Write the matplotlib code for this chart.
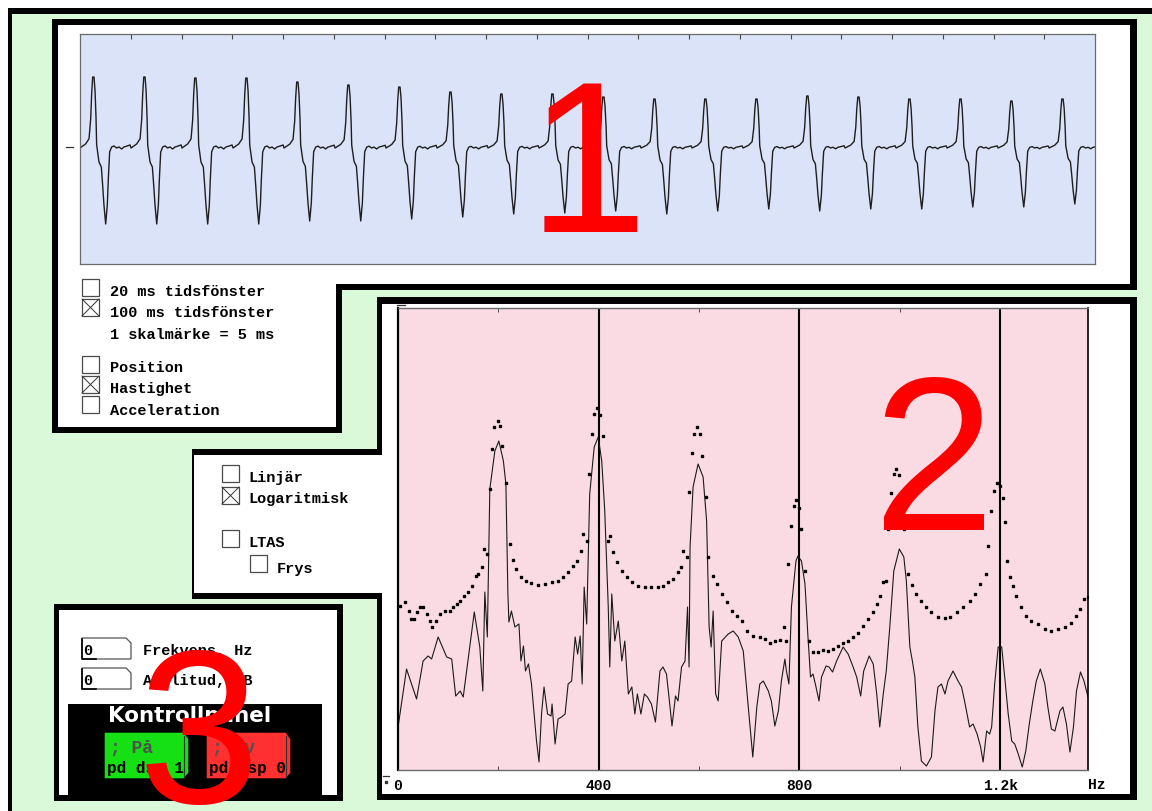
import matplotlib.pyplot as plt
from matplotlib.patches import Polygon, Rectangle

W, H = 1152, 812
GREEN = '#d9f9d9'
BLUE = '#dbe3f8'
PINK = '#fadbe3'
MONO = 'Liberation Mono'

# ---- data ----
# one period of the velocity signal (ms from period start, amplitude units)
cycle_t = [0.00, 0.56, 0.89, 1.05, 1.15, 1.25, 1.38, 1.48, 1.58, 1.64, 1.87, 2.10, 2.23,
           2.36, 2.53, 2.69, 2.79, 2.92, 3.12, 3.35, 3.60, 3.84, 4.10, 4.33, 4.66, 4.93]
cycle_amp = [0, 4, 9, 28, 53, 69, 69, 56, 29, 3, -14, -19, -37,
             -57, -76, -57, -31, -4, 1, 2, 0, 1, -1, 1, 2, 3]
# start of each period (ms) and how high / deep that period goes
cycle_start = [0.0, 5.03, 10.05, 15.08, 20.1, 25.13, 30.15, 35.18, 40.2, 45.23,
               50.25, 55.28, 60.3, 65.33, 70.35, 75.38, 80.4, 85.43, 90.45, 95.48]
peak_amp = [71, 71, 70, 70, 66, 63, 61, 56, 54, 54, 51, 49, 49, 49, 52, 51, 49, 49, 47, 49]
trough_amp = [76, 76, 76, 76, 73, 73, 71, 69, 66, 65, 63, 66, 63, 61, 63, 61, 61, 59, 59, 56]

# spectrum (Hz, level) - solid curve
spec_hz = [1, 17, 37, 50, 60, 67, 80, 97, 107, 115, 124, 130, 152, 163, 169, 173, 178, 183,
           193, 201, 210, 215, 219, 221, 226, 233, 241, 245, 250, 254, 260, 266, 276, 281,
           286, 291, 298, 305, 307, 313, 319, 326, 333, 339, 346, 353, 358, 363, 367, 371,
           376, 382, 391, 399, 406, 412, 419, 422, 426, 432, 439, 446, 452, 459, 466, 472,
           477, 484, 491, 497, 505, 513, 522, 528, 535, 540, 546, 553, 558, 565, 572, 577,
           580, 582, 588, 598, 608, 615, 620, 624, 628, 633, 638, 645, 658, 668, 678, 688,
           698, 707, 715, 721, 728, 738, 744, 751, 758, 764, 771, 774, 779, 784, 793, 797,
           804, 811, 817, 822, 827, 833, 839, 844, 853, 859, 866, 874, 887, 897, 907, 914,
           922, 928, 939, 947, 954, 960, 967, 973, 980, 988, 999, 1008, 1013, 1020, 1025,
           1030, 1036, 1043, 1053, 1063, 1070, 1076, 1083, 1090, 1096, 1106, 1116, 1123,
           1129, 1139, 1146, 1154, 1161, 1166, 1173, 1179, 1183, 1189, 1196, 1203, 1209,
           1216, 1223, 1229, 1236, 1244, 1251, 1258, 1265, 1272, 1280, 1289, 1295, 1302,
           1309, 1319, 1325, 1332, 1339, 1346, 1352, 1360, 1367, 1375]
spec_level = [45, 100, 70, 108, 113, 110, 132, 112, 110, 73, 78, 72, 157, 122, 78, 177, 132, 280,
              318, 328, 308, 285, 175, 147, 158, 142, 145, 108, 123, 98, 105, 85, 28, 7,
              55, 82, 55, 53, 65, 25, 50, 52, 55, 85, 88, 132, 115, 133, 85, 182,
              145, 275, 322, 332, 308, 258, 162, 102, 175, 128, 148, 108, 128, 75, 82, 55,
              75, 55, 75, 72, 65, 47, 98, 102, 95, 72, 43, 73, 68, 102, 108, 162,
              102, 222, 282, 305, 292, 248, 142, 122, 158, 75, 68, 128, 135, 138, 132, 118,
              62, 12, 62, 85, 88, 78, 68, 43, 58, 88, 110, 98, 85, 162, 208, 213,
              208, 185, 132, 92, 95, 82, 68, 92, 103, 102, 97, 108, 122, 115, 102, 92,
              73, 98, 113, 105, 75, 42, 75, 98, 142, 198, 220, 212, 188, 122, 108,
              92, 42, 8, 3, 12, 58, 82, 85, 75, 88, 98, 88, 82,
              68, 42, 45, 35, 22, 7, 38, 35, 42, 85, 122, 122, 92,
              55, 28, 25, 15, 2, 18, 45, 68, 88, 100, 85, 62, 40,
              38, 58, 62, 45, 17, 42, 78, 97, 88, 72]

# spectrum (Hz, level) - dotted curve
ltas_hz = [4, 14, 21, 26, 32, 37, 44, 50, 57, 64, 68, 75, 84, 94, 104, 110, 117, 124, 132,
           140, 147, 155, 160, 167, 172, 177, 183, 188, 192, 199, 203, 208, 215, 223, 230,
           236, 246, 256, 266, 279, 293, 306, 319, 329, 339, 349, 356, 364, 369, 376, 380,
           386, 391, 397, 402, 409, 418, 422, 429, 436, 446, 456, 466, 479, 492, 505, 519,
           529, 539, 548, 558, 564, 568, 575, 580, 585, 590, 596, 602, 606, 613, 618, 628,
           635, 645, 655, 665, 675, 685, 695, 708, 721, 731, 741, 751, 761, 769, 773, 777,
           784, 789, 794, 799, 804, 811, 819, 827, 837, 847, 857, 867, 877, 887, 897, 907,
           917, 927, 937, 946, 954, 960, 967, 972, 977, 982, 988, 993, 999, 1008, 1016,
           1025, 1033, 1043, 1053, 1063, 1076, 1090, 1100, 1113, 1126, 1139, 1149, 1159,
           1171, 1176, 1181, 1187, 1193, 1199, 1205, 1209, 1214, 1220, 1226, 1232, 1242,
           1252, 1262, 1276, 1289, 1302, 1315, 1329, 1342, 1352, 1360, 1368, 1375]
ltas_level = [163, 167, 158, 150, 150, 157, 162, 162, 155, 148, 142, 148, 155, 158, 158, 162,
              165, 168, 173, 177, 183, 193, 195, 202, 220, 215, 280, 320, 342, 348, 343, 323,
              286, 225, 209, 200, 192, 188, 186, 184, 185, 187, 188, 192, 197, 203, 208, 218,
              235, 228, 295, 335, 355, 361, 354, 333, 228, 233, 217, 207, 198, 192, 187, 183,
              182, 182, 182, 183, 187, 190, 197, 202, 218, 212, 277, 316, 335, 342, 335, 313,
              272, 212, 193, 185, 175, 167, 158, 153, 148, 138, 133, 132, 130, 126, 128, 129,
              142, 128, 205, 243, 263, 269, 261, 240, 198, 128, 117, 117, 119, 118, 120, 123,
              126, 128, 132, 136, 143, 150, 157, 165, 173, 187, 188, 240, 276, 295, 300, 294,
              240, 195, 184, 175, 168, 162, 157, 152, 151, 152, 157, 162, 168, 175, 185, 195,
              223, 258, 278, 286, 283, 271, 247, 208, 192, 183, 173, 162, 153, 148, 145, 140,
              138, 140, 142, 146, 153, 160, 170, 172]

freq_ticks = [0, 400, 800, 1200]
freq_labels = ['0', '400', '800', '1.2k']
grid_hz = [400, 800, 1200]

# build the velocity trace from the period shape
wave_t, wave_a = [], []
for k, t0 in enumerate(cycle_start):
    for t, a in zip(cycle_t, cycle_amp):
        scale = peak_amp[k] / 69 if a > 0 else trough_amp[k] / 76
        wave_t.append(t0 + t)
        wave_a.append(a * scale)


def rect(x0, y0, x1, y1):
    return [x0 / W, 1 - y1 / H, (x1 - x0) / W, (y1 - y0) / H]


def poly(ax, pts, fc, ec='none', lw=0, z=1):
    ax.add_patch(Polygon(pts, closed=True, fc=fc, ec=ec, lw=lw, zorder=z))


def label(ax, x, y, s, size=11, **kw):
    ax.text(x, y, s, fontfamily=MONO, fontweight='bold', fontsize=size,
            va='center_baseline', zorder=5, **kw)


def checkbox(ax, x, y, checked=False, s=17):
    ax.add_patch(Rectangle((x, y), s, s, fc='white', ec='#4a4a4a', lw=0.9, zorder=4))
    if checked:
        ax.plot([x, x + s], [y, y + s], color='#333333', lw=0.7, zorder=5)
        ax.plot([x, x + s], [y + s, y], color='#333333', lw=0.7, zorder=5)


fig = plt.figure(figsize=(W / 100, H / 100), dpi=100, facecolor='white')
scr = fig.add_axes([0, 0, 1, 1])
scr.set_xlim(0, W)
scr.set_ylim(H, 0)
scr.axis('off')

# outer window frame
poly(scr, [(8, 9), (W + 10, 9), (W + 10, H + 10), (8, H + 10)], 'black')
poly(scr, [(12, 15), (W + 10, 15), (W + 10, H + 10), (12, H + 10)], GREEN)

# panel 1 (L-shaped)
poly(scr, [(52, 20), (1137, 20), (1137, 291), (342, 291), (342, 434), (52, 434)], 'black')
poly(scr, [(58, 26), (1130, 26), (1130, 285), (336, 285), (336, 428), (58, 428)], 'white')

# panel 2 (L-shaped)
poly(scr, [(377, 298), (1137, 298), (1137, 801), (377, 801), (377, 600), (192, 600),
           (192, 450), (377, 450)], 'black')
poly(scr, [(382, 305), (1130, 305), (1130, 795), (382, 795), (382, 594), (194, 594),
           (194, 456), (382, 456)], 'white')

# panel 3
poly(scr, [(54, 605), (343, 605), (343, 802), (54, 802)], 'black')
poly(scr, [(59, 611), (337, 611), (337, 796), (59, 796)], 'white')
poly(scr, [(68, 705), (322, 705), (322, 796), (68, 796)], 'black')

# panel 1 controls
checkbox(scr, 82, 280)
checkbox(scr, 82, 300, True)
label(scr, 110, 291, '20 ms tidsfönster')
label(scr, 110, 312, '100 ms tidsfönster')
label(scr, 110, 334, '1 skalmärke = 5 ms')
checkbox(scr, 82, 357)
checkbox(scr, 82, 377, True)
checkbox(scr, 82, 397)
label(scr, 110, 367, 'Position')
label(scr, 110, 388, 'Hastighet')
label(scr, 110, 410, 'Acceleration')
scr.plot([66, 73], [148, 148], color='#333333', lw=0.9)

# panel 2 controls
checkbox(scr, 222, 466)
checkbox(scr, 222, 488, True)
checkbox(scr, 222, 531)
checkbox(scr, 250, 556)
label(scr, 248, 477, 'Linjär')
label(scr, 248, 498, 'Logaritmisk')
label(scr, 248, 542, 'LTAS')
label(scr, 277, 568, 'Frys')
scr.plot([397, 405], [306, 306], color='#333333', lw=0.9)
scr.plot([383, 389], [777, 777], color='#333333', lw=0.9)
scr.plot([386], [783], marker='s', ms=1.5, color='#333333')
label(scr, 1088, 784, 'Hz', size=10.5)

# panel 3 controls
for yb, txt in [(639, 'Frekvens, Hz'), (669, 'Amplitud, dB')]:
    poly(scr, [(82, yb), (126, yb), (131, yb + 5), (131, yb + 21), (82, yb + 21)],
         'white', ec='#555555', lw=0.9, z=3)
    scr.plot([82, 82, 96], [yb + 1, yb + 21, yb + 21], color='black', lw=1.2, zorder=4)
    label(scr, 83, yb + 11, '0')
    label(scr, 143, yb + 11, txt)
scr.text(108, 714, 'Kontrollpanel', color='white', fontsize=15.5, fontweight='bold',
         fontfamily='DejaVu Sans', va='center_baseline', zorder=5)
for x0, fc, top, bot in [(104, '#14e014', '; På', 'pd dsp 1'),
                         (206, '#ff3030', '; Av', 'pd dsp 0')]:
    poly(scr, [(x0, 733), (x0 + 80, 733), (x0 + 85, 740), (x0 + 85, 774), (x0 + 80, 780),
               (x0, 780)], fc, ec='black', lw=1.0, z=3)
    scr.plot([x0 + 80, x0 + 80], [737, 777], color='#333333', lw=0.8, zorder=4)
    label(scr, x0 + 6, 746, top, size=13, color='#505050')
    label(scr, x0 + 3, 767, bot, size=11.5, color='black')

# waveform window
axw = fig.add_axes(rect(80, 35, 1095, 265))
axw.set_facecolor(BLUE)
axw.plot(wave_t, wave_a, color='#1e1e1e', lw=1.0)
axw.set_xlim(0, 100)
axw.set_ylim(-116, 114)
axw.set_xticks(list(range(5, 100, 5)))
axw.set_yticks([])
axw.tick_params(axis='x', top=True, bottom=False, direction='in', length=3.5,
                color='#444444', labelbottom=False)
for sp in axw.spines.values():
    sp.set_color('#6a6a6a')
    sp.set_linewidth(0.9)

# spectrum window
axs = fig.add_axes(rect(398, 309, 1088, 771))
axs.set_facecolor(PINK)
for f in grid_hz:
    axs.axvline(f, color='black', lw=1.5)
axs.plot(spec_hz, spec_level, color='#1a1a1a', lw=0.8)
axs.plot(ltas_hz, ltas_level, ls='none', marker='s', ms=1.7, color='black')
axs.set_xlim(0, 1375)
axs.set_ylim(-1, 461)
axs.set_yticks([])
axs.set_xticks(freq_ticks)
axs.set_xticklabels(freq_labels, fontfamily=MONO, fontweight='bold', fontsize=10.5)
axs.set_xticks([200, 600, 1000], minor=True)
axs.tick_params(axis='x', which='major', length=0, pad=6)
axs.tick_params(axis='x', which='minor', top=True, direction='in', length=3,
                color='#333333')
axs.spines['left'].set_linewidth(1.6)
axs.spines['right'].set_linewidth(1.2)
for s in ['top', 'bottom']:
    axs.spines[s].set_color('#6a6a6a')
    axs.spines[s].set_linewidth(1.0)

# big red panel numbers on top of everything
top = fig.add_axes([0, 0, 1, 1])
top.set_xlim(0, W)
top.set_ylim(H, 0)
top.axis('off')
top.patch.set_alpha(0)
for x, y, n, fs in [(587, 232, '1', 155), (934, 530, '2', 158), (199, 803, '3', 158)]:
    top.text(x, y, n, color='#ff0000', fontsize=fs, fontfamily='Liberation Sans',
             ha='center', va='baseline')

fig.savefig('out.png', dpi=100)
